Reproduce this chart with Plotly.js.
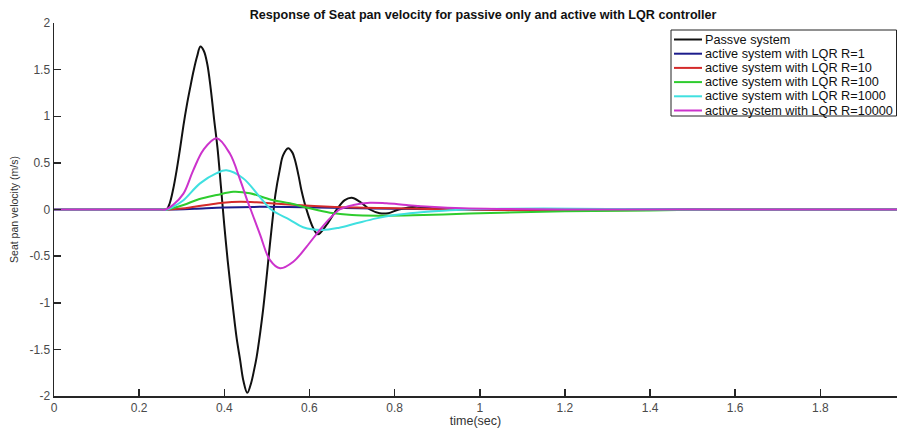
<!DOCTYPE html>
<html>
<head>
<meta charset="utf-8">
<script src="https://cdn.plot.ly/plotly-3.0.1.min.js"></script>
<style>html,body{margin:0;padding:0;background:#fff;}#chart{width:898px;height:428px;}</style>
</head>
<body>
<div id="chart"></div>
<script>
// ---- data (time in sec, velocity in m/s) ----
var seriesNames = ["Passve system", "active system with LQR R=1", "active system with LQR R=10",
  "active system with LQR R=100", "active system with LQR R=1000", "active system with LQR R=10000"];

var tPassive = [0, 0.1, 0.2, 0.25, 0.2645, 0.272, 0.28, 0.288, 0.296, 0.304, 0.312, 0.32, 0.328, 0.336, 0.344, 0.352, 0.36, 0.368, 0.376, 0.384, 0.392, 0.40, 0.408, 0.421, 0.429, 0.437, 0.445, 0.454, 0.463, 0.47, 0.476, 0.484, 0.491, 0.499, 0.507, 0.514, 0.52, 0.53, 0.538, 0.55, 0.56, 0.566, 0.575, 0.581, 0.593, 0.609, 0.62, 0.64, 0.664, 0.683, 0.699, 0.718, 0.742, 0.765, 0.785, 0.81, 0.851, 0.883, 0.92, 0.96, 1.0, 1.2, 1.5, 1.98];
var vPassive = [0, 0, 0, 0, 0, 0.07, 0.22, 0.42, 0.65, 0.90, 1.12, 1.31, 1.49, 1.64, 1.747, 1.70, 1.56, 1.30, 0.97, 0.66, 0.25, -0.17, -0.55, -1.08, -1.38, -1.61, -1.84, -1.966, -1.86, -1.72, -1.58, -1.33, -1.08, -0.74, -0.38, -0.08, 0.16, 0.42, 0.58, 0.657, 0.61, 0.53, 0.35, 0.21, 0, -0.2, -0.266, -0.166, 0, 0.10, 0.125, 0.084, 0, -0.04, -0.04, 0, 0.03, 0.015, -0.005, 0.005, 0, 0, 0, 0];

var tR1 = [0, 0.1, 0.2, 0.25, 0.28, 0.33, 0.40, 0.47, 0.55, 0.65, 0.75, 0.9, 1.1, 1.4, 1.98];
var vR1 = [0, 0, 0, 0, 0, 0.008, 0.022, 0.028, 0.026, 0.018, 0.01, 0.004, 0, 0, 0];

var tR10 = [0, 0.1, 0.2, 0.25, 0.27, 0.30, 0.33, 0.358, 0.397, 0.437, 0.476, 0.515, 0.57, 0.648, 0.726, 0.80, 0.88, 0.96, 1.1, 1.25, 1.4, 1.6, 1.98];
var vR10 = [0, 0, 0, 0, 0, 0.01, 0.03, 0.048, 0.073, 0.084, 0.078, 0.065, 0.048, 0.03, 0.02, 0.013, 0.006, 0, -0.008, -0.01, -0.006, 0, 0];

var tR100 = [0, 0.1, 0.2, 0.25, 0.265, 0.304, 0.34, 0.382, 0.421, 0.46, 0.51, 0.554, 0.60, 0.648, 0.70, 0.765, 0.843, 0.945, 1.05, 1.2, 1.4, 1.6, 1.98];
var vR100 = [0, 0, 0, 0, 0, 0.048, 0.11, 0.155, 0.19, 0.174, 0.105, 0.066, 0.013, -0.034, -0.059, -0.066, -0.062, -0.048, -0.035, -0.02, -0.01, 0, 0];

var tR1000 = [0, 0.1, 0.2, 0.25, 0.265, 0.28, 0.304, 0.343, 0.382, 0.405, 0.444, 0.483, 0.51, 0.554, 0.585, 0.63, 0.67, 0.71, 0.757, 0.80, 0.85, 0.914, 0.97, 1.05, 1.15, 1.3, 1.5, 1.98];
var vR1000 = [0, 0, 0, 0, 0, 0.03, 0.10, 0.28, 0.39, 0.42, 0.335, 0.137, 0, -0.11, -0.19, -0.22, -0.195, -0.148, -0.095, -0.06, -0.034, -0.013, 0, 0.008, 0.01, 0.005, 0, 0];

var tR10000 = [0, 0.1, 0.2, 0.25, 0.262, 0.28, 0.304, 0.327, 0.351, 0.382, 0.413, 0.437, 0.456, 0.462, 0.484, 0.507, 0.531, 0.562, 0.593, 0.624, 0.648, 0.671, 0.703, 0.742, 0.781, 0.828, 0.883, 0.96, 1.05, 1.2, 1.5, 1.98];
var vR10000 = [0, 0, 0, 0, 0, 0.05, 0.17, 0.42, 0.64, 0.764, 0.60, 0.32, 0.07, 0, -0.27, -0.54, -0.63, -0.56, -0.40, -0.22, -0.095, 0, 0.048, 0.073, 0.066, 0.048, 0.03, 0.013, 0.005, 0, 0, 0];

var xTicks = [0, 0.2, 0.4, 0.6, 0.8, 1, 1.2, 1.4, 1.6, 1.8];
var xTickText = ["0", "0.2", "0.4", "0.6", "0.8", "1", "1.2", "1.4", "1.6", "1.8"];
var yTicks = [-2, -1.5, -1, -0.5, 0, 0.5, 1, 1.5, 2];
var yTickText = ["-2", "-1.5", "-1", "-0.5", "0", "0.5", "1", "1.5", "2"];

var colors = ["#111111", "#1c1c8c", "#d42a2a", "#2ecc2e", "#40e0e0", "#cc33cc"];
var xs = [tPassive, tR1, tR10, tR100, tR1000, tR10000];
var ys = [vPassive, vR1, vR10, vR100, vR1000, vR10000];

var traces = xs.map(function (x, i) {
  return {
    x: x, y: ys[i], name: seriesNames[i], type: "scatter", mode: "lines",
    line: {color: colors[i], width: 2, shape: "spline", smoothing: 1.0}
  };
});

// ---- layout geometry (pixels) ----
var W = 898, H = 428, mL = 54, mR = 1, mT = 23, mB = 32;
var pw = W - mL - mR, ph = H - mT - mB;
function px2x(px) { return (px - mL) / pw; }
function py2y(py) { return (H - mB - py) / ph; }

// MATLAB-style compact legend drawn with shapes + annotations
var shapes = [{
  type: "rect", xref: "paper", yref: "paper",
  x0: px2x(671), x1: px2x(896.5), y0: py2y(116), y1: py2y(30),
  line: {color: "#222", width: 1}, fillcolor: "#ffffff", layer: "above"
}];
var annotations = [];
seriesNames.forEach(function (name, i) {
  var rowY = 39.5 + 14.2 * i;
  shapes.push({
    type: "line", xref: "paper", yref: "paper",
    x0: px2x(674), x1: px2x(702), y0: py2y(rowY), y1: py2y(rowY),
    line: {color: colors[i], width: 2}, layer: "above"
  });
  annotations.push({
    xref: "paper", yref: "paper", x: px2x(703), y: py2y(rowY),
    xanchor: "left", yanchor: "middle", showarrow: false, text: name,
    font: {family: "Liberation Sans, Arial, sans-serif", size: 12.7, color: "#111"}
  });
});

var axisFont = {family: "Liberation Sans, Arial, sans-serif", size: 12, color: "#4a4a4a"};

var layout = {
  width: W, height: H,
  margin: {l: mL, r: mR, t: mT, b: mB},
  paper_bgcolor: "#ffffff", plot_bgcolor: "#ffffff",
  showlegend: false,
  shapes: shapes, annotations: annotations,
  title: {
    text: "<b>Response of Seat pan velocity for passive only and active with LQR controller</b>",
    font: {family: "Liberation Sans, Arial, sans-serif", size: 12.6, color: "#111"},
    x: 0.538, xanchor: "center", y: 0.967, yanchor: "middle"
  },
  xaxis: {
    range: [0, 1.98], tickvals: xTicks, ticktext: xTickText,
    ticks: "inside", ticklen: 7, tickwidth: 1.5, tickcolor: "#262626",
    showline: true, linecolor: "#262626", linewidth: 1.5,
    showgrid: false, zeroline: false, tickfont: axisFont,
    title: {text: "time(sec)", font: {family: "Liberation Sans, Arial, sans-serif", size: 12.5, color: "#333"}, standoff: 5}
  },
  yaxis: {
    range: [-2, 2], tickvals: yTicks, ticktext: yTickText,
    ticks: "inside", ticklen: 7, tickwidth: 1.5, tickcolor: "#262626",
    showline: true, linecolor: "#262626", linewidth: 1.5,
    showgrid: false, zeroline: false, tickfont: axisFont,
    title: {text: "Seat pan velocity (m/s)", font: {family: "Liberation Sans, Arial, sans-serif", size: 10.5, color: "#333"}, standoff: 8}
  }
};

Plotly.newPlot("chart", traces, layout, {staticPlot: true, displayModeBar: false});
</script>
</body>
</html>
